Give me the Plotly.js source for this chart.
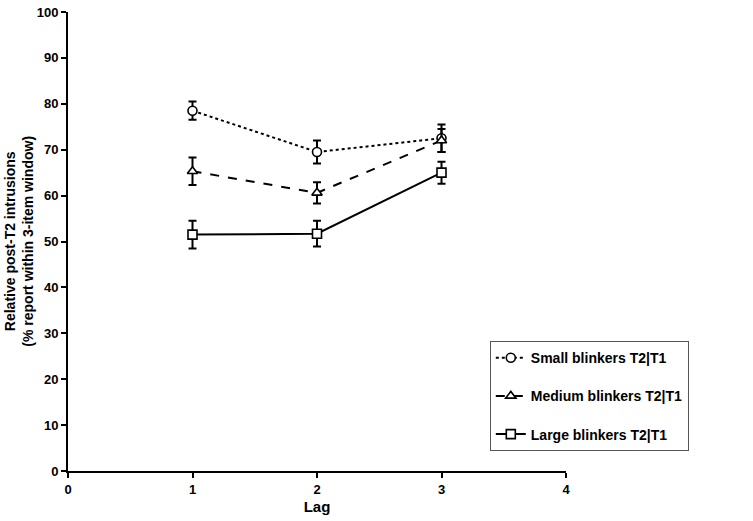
<!DOCTYPE html>
<html>
<head>
<meta charset="utf-8">
<script src="https://cdn.plot.ly/plotly-3.0.1.min.js"></script>
<style>
  body { margin: 0; background: #fff; }
  #chart { width: 753px; height: 521px; }
</style>
</head>
<body>
<div id="chart"></div>
<script>
// Lag values on the x axis
var lags = [1, 2, 3]

// Means and error bar halves
var smallMean = [78.5, 69.5, 72.5]
var smallErr = [2.0, 2.5, 3.0]
var mediumMean = [65.3, 60.6, 72.0]
var mediumErr = [3.0, 2.3, 2.5]
var largeMean = [51.5, 51.7, 65.0]
var largeErr = [3.0, 2.8, 2.4]

var names = ["Small blinkers T2|T1", "Medium blinkers T2|T1", "Large blinkers T2|T1"]
var yTitle = "Relative post-T2 intrusions<br>(% report within 3-item window)"

var fam = "Liberation Sans, Arial, sans-serif"

function makeTrace(y, err, name, dash, symbol, group) {
  return {
    x: lags,
    y: y,
    name: name,
    legendgroup: group,
    type: "scatter",
    mode: "lines+markers",
    line: { color: "#000", width: 2, dash: dash },
    marker: { symbol: symbol, size: 9, color: "#fff", line: { color: "#000", width: 1.6 } },
    error_y: { type: "data", array: err, visible: true, color: "#000", thickness: 2, width: 4 },
  }
}

var traces = [
  makeTrace(smallMean, smallErr, names[0], "dot", "circle", "a"),
  makeTrace(mediumMean, mediumErr, names[1], "dash", "triangle-up", "b"),
  makeTrace(largeMean, largeErr, names[2], "solid", "square", "c"),
]

var tickFont = { family: fam, size: 13, color: "#000", weight: "bold" }

var layout = {
  width: 753,
  height: 521,
  margin: { l: 68, r: 187, t: 12, b: 50 },
  paper_bgcolor: "#fff",
  plot_bgcolor: "#fff",
  font: tickFont,
  showlegend: true,
  legend: {
    x: 0.847, y: 0.283, xanchor: "left", yanchor: "top",
    bordercolor: "#555", borderwidth: 1, bgcolor: "#fff",
    traceorder: "grouped", tracegroupgap: 17,
    font: { family: fam, size: 14, color: "#000", weight: "bold" },
  },
  xaxis: {
    range: [0, 4], dtick: 1, showgrid: false, zeroline: false,
    showline: true, linecolor: "#000", linewidth: 2,
    ticks: "outside", ticklen: 5, tickwidth: 2, tickcolor: "#000",
    tickfont: tickFont,
    title: { text: "Lag", font: { family: fam, size: 15, color: "#000", weight: "bold" }, standoff: 6 },
  },
  yaxis: {
    range: [0, 100], dtick: 10, showgrid: false, zeroline: false,
    showline: true, linecolor: "#000", linewidth: 2,
    ticks: "outside", ticklen: 5, tickwidth: 2, tickcolor: "#000",
    tickfont: tickFont,
  },
  annotations: [{
    text: yTitle,
    xref: "paper", yref: "paper",
    x: -0.1, y: 0.5, xanchor: "center", yanchor: "middle",
    textangle: -90, showarrow: false,
    font: { family: fam, size: 14, color: "#000", weight: "bold" },
  }],
}

Plotly.newPlot("chart", traces, layout, { displayModeBar: false })
</script>
</body>
</html>
